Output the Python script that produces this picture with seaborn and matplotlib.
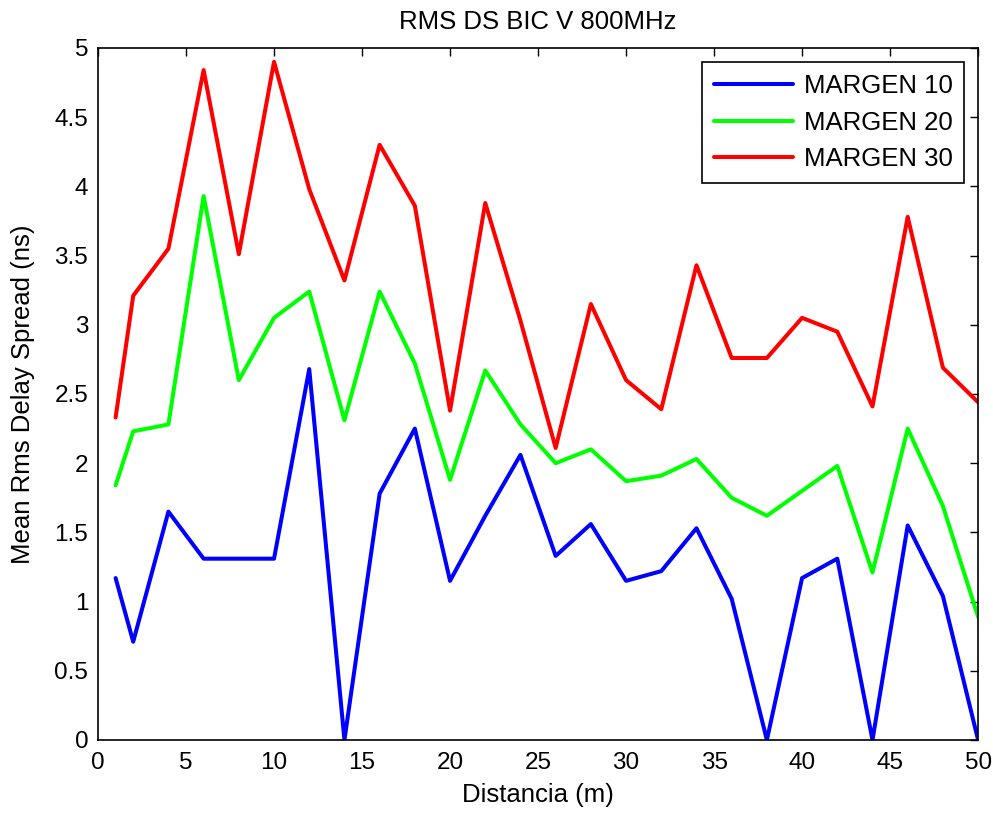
import pandas as pd
import matplotlib
matplotlib.use('Agg')
import matplotlib.pyplot as plt
from matplotlib.ticker import FuncFormatter, MultipleLocator
import seaborn as sns

# Distances (m) and mean RMS delay spread (ns) per margin
distancia = [1, 2, 4, 6, 8, 10, 12, 14, 16, 18, 20, 22, 24, 26, 28, 30,
             32, 34, 36, 38, 40, 42, 44, 46, 48, 50]
margen_10 = [1.17, 0.71, 1.65, 1.31, 1.31, 1.31, 2.68, 0.0, 1.78, 2.25, 1.15, 1.62, 2.06,
             1.33, 1.56, 1.15, 1.22, 1.53, 1.02, 0.0, 1.17, 1.31, 0.0, 1.55, 1.04, 0.0]
margen_20 = [1.84, 2.23, 2.28, 3.93, 2.60, 3.05, 3.24, 2.31, 3.24, 2.72, 1.88, 2.67, 2.28,
             2.00, 2.10, 1.87, 1.91, 2.03, 1.75, 1.62, 1.80, 1.98, 1.21, 2.25, 1.69, 0.89]
margen_30 = [2.33, 3.21, 3.55, 4.84, 3.51, 4.90, 3.98, 3.32, 4.30, 3.86, 2.38, 3.88, 3.03,
             2.11, 3.15, 2.60, 2.39, 3.43, 2.76, 2.76, 3.05, 2.95, 2.41, 3.78, 2.69, 2.44]
series_names = ['MARGEN 10', 'MARGEN 20', 'MARGEN 30']
colors = ['#0000ff', '#00ff00', '#ff0000']

# Long-form table for seaborn
rows = []
for name, vals in zip(series_names, [margen_10, margen_20, margen_30]):
    for d, v in zip(distancia, vals):
        rows.append({'Distancia': d, 'Valor': v, 'Serie': name})
df = pd.DataFrame(rows)

sns.set_style('white')
plt.rcParams['font.family'] = ['Liberation Sans', 'DejaVu Sans']
plt.rcParams['text.color'] = 'black'
plt.rcParams['axes.labelcolor'] = 'black'

fig = plt.figure(figsize=(9.93, 8.13), dpi=100)
ax = fig.add_axes([0.0987, 0.0898, 0.8863, 0.8512])

sns.lineplot(data=df, x='Distancia', y='Valor', hue='Serie', hue_order=series_names,
             palette=colors, estimator=None, sort=False, linewidth=2.9, ax=ax)

ax.set_xlim(0, 50)
ax.set_ylim(0, 5)
ax.xaxis.set_major_locator(MultipleLocator(5))
ax.yaxis.set_major_locator(MultipleLocator(0.5))
ax.yaxis.set_major_formatter(FuncFormatter(lambda v, p: f'{v:g}'))
ax.tick_params(direction='in', length=6, width=1, top=True, right=True,
               labelsize=17.5, colors='black')
ax.tick_params(axis='x', pad=9)
ax.tick_params(axis='y', pad=7)

for s in ax.spines.values():
    s.set_visible(True)
    s.set_color('black')
    s.set_linewidth(1.2)

ax.set_title('RMS DS BIC V 800MHz', fontsize=18.5, pad=14, color='black')
ax.set_xlabel('Distancia (m)', fontsize=18.5, labelpad=6)
ax.set_ylabel('Mean Rms Delay Spread (ns)', fontsize=18.5, labelpad=14)

leg = ax.legend(loc='upper right', fontsize=18.5, handlelength=3.1, frameon=True,
                fancybox=False, edgecolor='black', borderaxespad=0.55,
                labelspacing=0.5, handletextpad=0.4, borderpad=0.45)
leg.get_frame().set_linewidth(1.2)
leg.get_frame().set_alpha(1)
for t in leg.get_texts():
    t.set_color('black')

fig.savefig('out.png', dpi=100)
